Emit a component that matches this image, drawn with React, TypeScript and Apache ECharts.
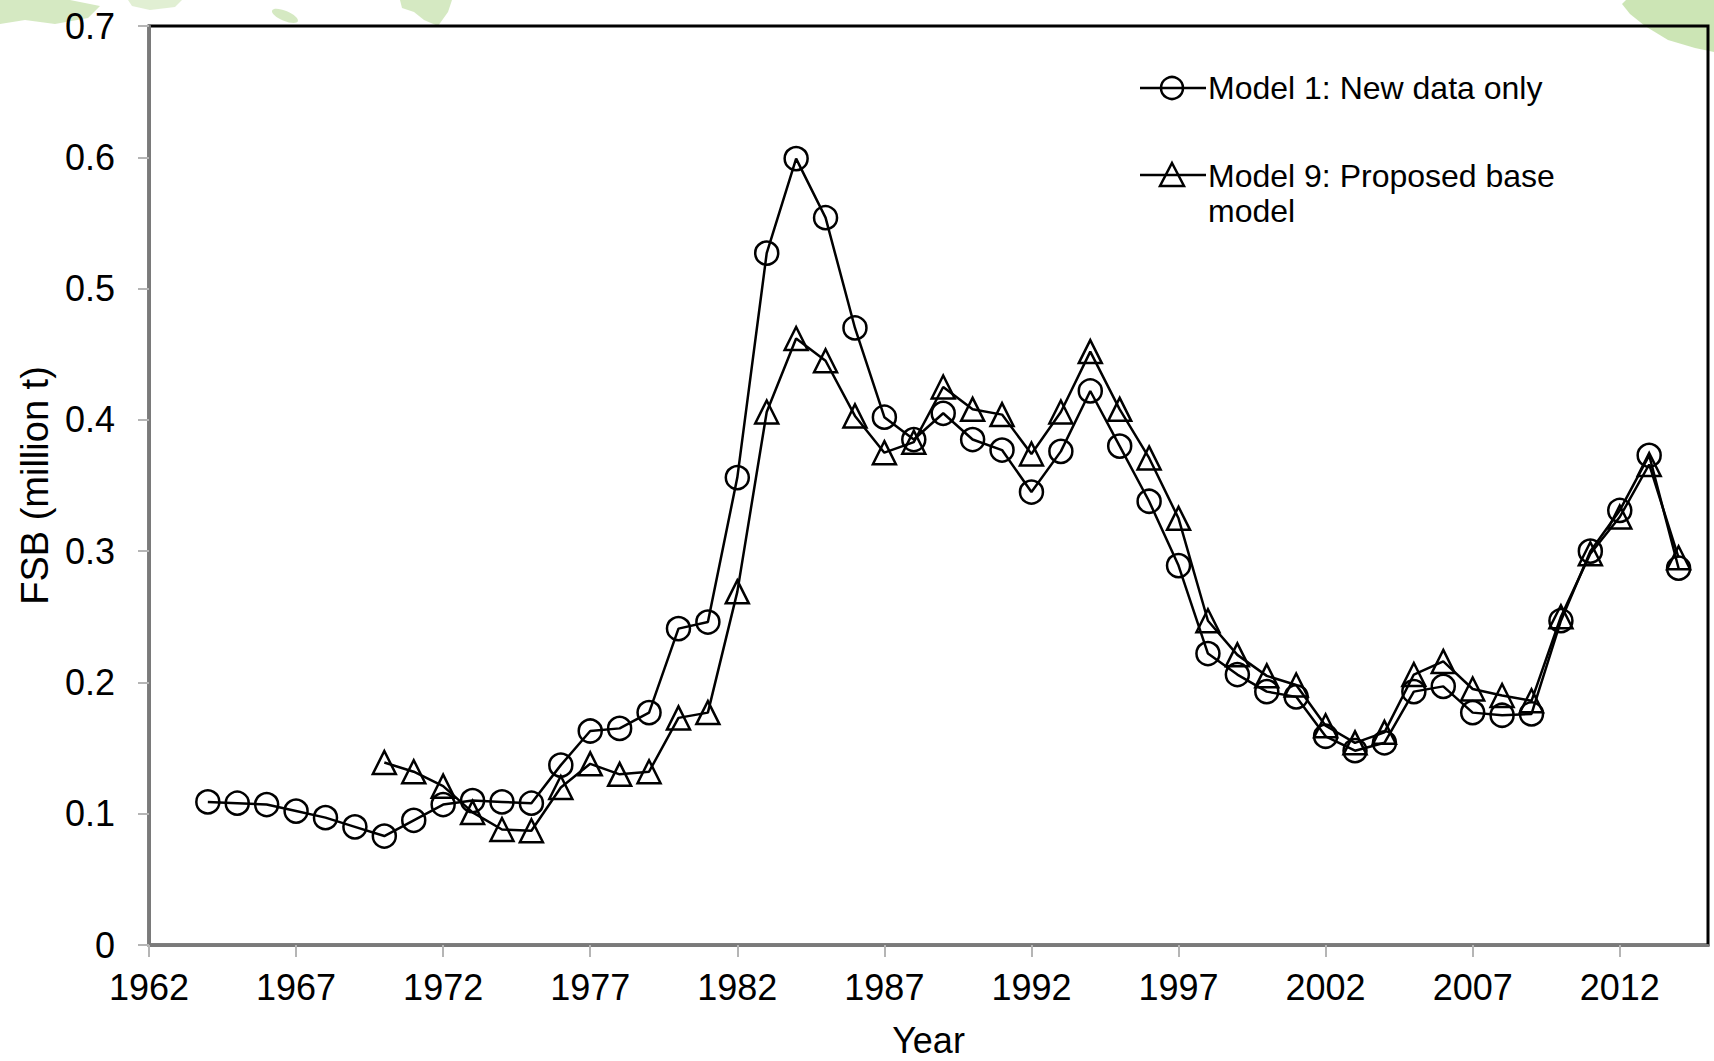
import React, { useEffect, useRef } from "react";
import * as echarts from "echarts";

const xTickYears = [1962, 1967, 1972, 1977, 1982, 1987, 1992, 1997, 2002, 2007, 2012];
const yearsModel1 = [
  1964, 1965, 1966, 1967, 1968, 1969, 1970, 1971, 1972, 1973, 1974, 1975,
  1976, 1977, 1978, 1979, 1980, 1981, 1982, 1983, 1984, 1985, 1986, 1987,
  1988, 1989, 1990, 1991, 1992, 1993, 1994, 1995, 1996, 1997, 1998, 1999,
  2000, 2001, 2002, 2003, 2004, 2005, 2006, 2007, 2008, 2009, 2010, 2011,
  2012, 2013, 2014,
];
const model1 = [
  0.109, 0.108, 0.107, 0.102, 0.097, 0.09, 0.083, 0.095, 0.107, 0.11, 0.109, 0.108,
  0.137, 0.163, 0.165, 0.177, 0.241, 0.246, 0.356, 0.527, 0.599, 0.554, 0.47, 0.402,
  0.385, 0.405, 0.385, 0.377, 0.345, 0.376, 0.422, 0.38, 0.338, 0.289, 0.222, 0.206,
  0.193, 0.189, 0.159, 0.148, 0.154, 0.193, 0.197, 0.177, 0.175, 0.176, 0.247, 0.3,
  0.331, 0.373, 0.287,
];
const yearsModel9 = [
  1970, 1971, 1972, 1973, 1974, 1975, 1976, 1977, 1978, 1979, 1980, 1981,
  1982, 1983, 1984, 1985, 1986, 1987, 1988, 1989, 1990, 1991, 1992, 1993,
  1994, 1995, 1996, 1997, 1998, 1999, 2000, 2001, 2002, 2003, 2004, 2005,
  2006, 2007, 2008, 2009, 2010, 2011, 2012, 2013, 2014,
];
const model9 = [
  0.139, 0.132, 0.121, 0.101, 0.088, 0.087, 0.12, 0.138, 0.13, 0.132, 0.173, 0.177,
  0.269, 0.406, 0.462, 0.445, 0.403, 0.375, 0.383, 0.425, 0.408, 0.404, 0.374, 0.406,
  0.452, 0.408, 0.371, 0.325, 0.247, 0.221, 0.205, 0.198, 0.167, 0.154, 0.162, 0.206,
  0.216, 0.195, 0.19, 0.186, 0.25, 0.298, 0.326, 0.366, 0.295,
];
const seriesNames = ["Model 1: New data only", "Model 9: Proposed base\nmodel"];

const FONT = "'Liberation Sans', Arial, Helvetica, sans-serif";
const GREEN = "#c3e0a8";

export default function App() {
  const ref = useRef<HTMLDivElement>(null);

  useEffect(() => {
    if (!ref.current) return;
    const chart = echarts.init(ref.current, undefined, { renderer: "svg" });
    const markerStyle = { color: "transparent", borderColor: "#000", borderWidth: 2.5 };
    chart.setOption({
      animation: false,
      backgroundColor: "#fff",
      grid: {
        left: 149,
        right: 6,
        top: 26,
        bottom: 116,
        containLabel: false,
        outerBoundsMode: "none",
        show: true,
        borderColor: "#000",
        borderWidth: 3,
        backgroundColor: "transparent",
      },
      xAxis: {
        type: "value",
        min: 1962,
        max: 2015,
        name: "Year",
        nameLocation: "middle",
        nameGap: 76,
        nameTextStyle: { fontFamily: FONT, fontSize: 36, color: "#000", lineHeight: 38 },
        axisLine: { show: true, lineStyle: { color: "#7a7a7a", width: 3 } },
        axisTick: {
          show: true,
          length: 12,
          lineStyle: { color: "#b5b5b5", width: 2 },
          customValues: xTickYears,
        },
        axisLabel: {
          fontFamily: FONT,
          fontSize: 36,
          color: "#000",
          margin: 24,
          customValues: xTickYears,
          formatter: (v: number) => String(v),
        },
        splitLine: { show: false },
      },
      yAxis: {
        type: "value",
        min: 0,
        max: 0.7,
        interval: 0.1,
        name: "FSB (million t)",
        nameLocation: "middle",
        nameGap: 95,
        nameTextStyle: { fontFamily: FONT, fontSize: 38, color: "#000" },
        axisLine: { show: true, lineStyle: { color: "#7a7a7a", width: 3 } },
        axisTick: { show: true, length: 11, lineStyle: { color: "#b5b5b5", width: 2 } },
        axisLabel: {
          fontFamily: FONT,
          fontSize: 36,
          color: "#000",
          margin: 34,
          formatter: (v: number) => (v === 0 ? "0" : v.toFixed(1)),
        },
        splitLine: { show: false },
      },
      series: [
        {
          name: seriesNames[0],
          type: "line",
          data: yearsModel1.map((y, i) => [y, model1[i]]),
          symbol: "circle",
          symbolSize: 23,
          showAllSymbol: true,
          lineStyle: { color: "#000", width: 2.5 },
          itemStyle: markerStyle,
          z: 3,
        },
        {
          name: seriesNames[1],
          type: "line",
          data: yearsModel9.map((y, i) => [y, model9[i]]),
          symbol: "triangle",
          symbolSize: 23,
          showAllSymbol: true,
          lineStyle: { color: "#000", width: 2.5 },
          itemStyle: markerStyle,
          z: 3,
        },
      ],
      graphic: [
        // faint green background decoration
        {
          type: "polygon",
          z: -10,
          shape: { points: [[0, 0], [70, 0], [100, 6], [88, 18], [55, 24], [25, 20], [0, 24]] },
          style: { fill: GREEN, opacity: 0.7 },
        },
        {
          type: "polygon",
          z: -10,
          shape: { points: [[128, 0], [182, 0], [175, 7], [150, 10], [132, 6]] },
          style: { fill: GREEN, opacity: 0.5 },
        },
        {
          type: "ellipse",
          z: -10,
          shape: { cx: 285, cy: 16, rx: 14, ry: 5 },
          rotation: -0.4,
          originX: 285,
          originY: 16,
          style: { fill: GREEN, opacity: 0.7 },
        },
        {
          type: "polygon",
          z: -10,
          shape: { points: [[400, 0], [452, 0], [448, 12], [438, 26], [424, 20], [414, 12], [402, 8]] },
          style: { fill: GREEN, opacity: 0.7 },
        },
        {
          type: "polygon",
          z: -10,
          shape: {
            points: [[1626, 0], [1714, 0], [1714, 52], [1695, 48], [1668, 40], [1645, 26], [1630, 14], [1622, 4]],
          },
          style: { fill: GREEN, opacity: 0.85 },
        },
        // legend
        {
          type: "line",
          z: 10,
          shape: { x1: 1140, y1: 88, x2: 1206, y2: 88 },
          style: { stroke: "#000", lineWidth: 2.5 },
        },
        {
          type: "circle",
          z: 11,
          shape: { cx: 1172, cy: 88, r: 11 },
          style: { fill: "none", stroke: "#000", lineWidth: 2.5 },
        },
        {
          type: "text",
          z: 11,
          x: 1208,
          y: 88,
          style: {
            text: seriesNames[0],
            fontFamily: FONT,
            fontSize: 32,
            fill: "#000",
            verticalAlign: "middle",
          },
        },
        {
          type: "line",
          z: 10,
          shape: { x1: 1140, y1: 175, x2: 1206, y2: 175 },
          style: { stroke: "#000", lineWidth: 2.5 },
        },
        {
          type: "polygon",
          z: 11,
          shape: { points: [[1172, 163], [1184, 186], [1160, 186]] },
          style: { fill: "none", stroke: "#000", lineWidth: 2.5 },
        },
        {
          type: "text",
          z: 11,
          x: 1208,
          y: 158,
          style: {
            text: seriesNames[1],
            fontFamily: FONT,
            fontSize: 32,
            lineHeight: 35,
            fill: "#000",
            verticalAlign: "top",
          },
        },
      ],
    });
    return () => chart.dispose();
  }, []);

  return (
    <div
      ref={ref}
      style={{ position: "fixed", left: 0, top: 0, width: 1714, height: 1061 }}
    />
  );
}
